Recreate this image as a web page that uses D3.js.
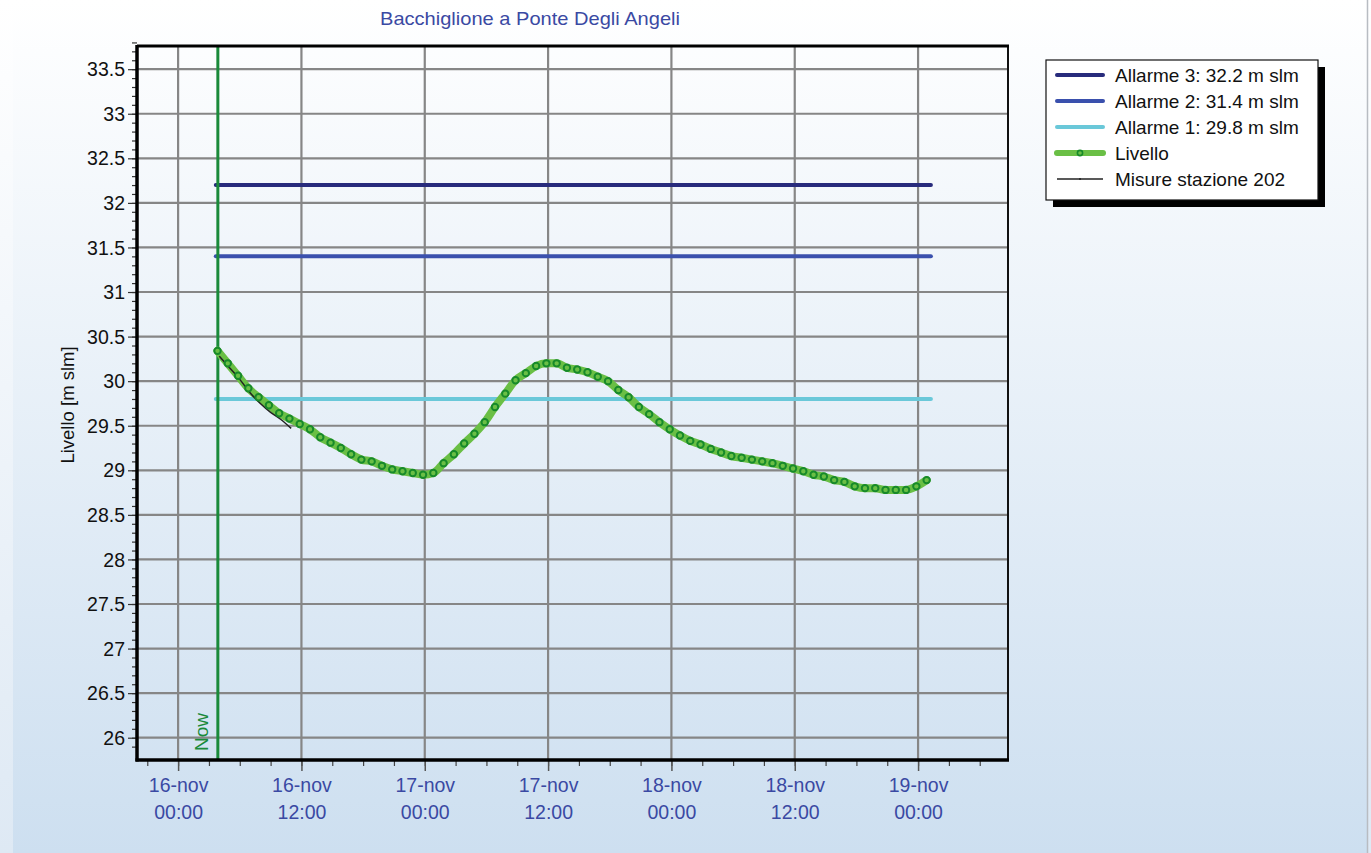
<!DOCTYPE html>
<html>
<head>
<meta charset="utf-8">
<script src="https://cdn.jsdelivr.net/npm/d3@7"></script>
<style>
  html, body { margin: 0; padding: 0; background: #ffffff; }
  svg { display: block; }
  text { font-family: "Liberation Sans", Arial, sans-serif; }
</style>
</head>
<body>
<svg id="chart" width="1371" height="853"></svg>
<script>
// ---------------- DATA ----------------
const title = "Bacchiglione a Ponte Degli Angeli";
const yLabel = "Livello [m slm]";

const alarmNames = ["Allarme 3: 32.2 m slm", "Allarme 2: 31.4 m slm", "Allarme 1: 29.8 m slm"];
const alarmLevels = [32.2, 31.4, 29.8];
const alarmStart = "2023-11-16T03:40:00Z";
const alarmEnd = "2023-11-19T01:15:00Z";

const nowTime = "2023-11-16T03:52:00Z";

// Livello (forecast), hourly from livelloStart
const livelloStart = "2023-11-16T03:50:00Z";
const livelloValues = [
  30.34, 30.20, 30.06, 29.92, 29.82, 29.73, 29.64, 29.58, 29.52, 29.46,
  29.37, 29.31, 29.25, 29.18, 29.12, 29.10, 29.05, 29.01, 28.99, 28.97,
  28.95, 28.97, 29.08, 29.18, 29.30, 29.41, 29.54, 29.71, 29.86, 30.01,
  30.09, 30.17, 30.20, 30.20, 30.15, 30.13, 30.10, 30.05, 30.00, 29.90,
  29.82, 29.71, 29.63, 29.54, 29.46, 29.39, 29.33, 29.29, 29.24, 29.20,
  29.16, 29.14, 29.12, 29.10, 29.08, 29.05, 29.02, 28.99, 28.95, 28.93,
  28.89, 28.87, 28.82, 28.80, 28.80, 28.78, 28.78, 28.78, 28.82, 28.89
];

// Misure stazione 202 (observed), hourly from misureStart
const misureStart = "2023-11-16T04:00:00Z";
const misureValues = [30.28, 30.15, 30.02, 29.87, 29.75, 29.65, 29.57, 29.47];

const xDomain = ["2023-11-15T20:00:00Z", "2023-11-19T08:45:00Z"];
const yDomain = [25.75, 33.76];
const yMajorTicks = [26, 26.5, 27, 27.5, 28, 28.5, 29, 29.5, 30, 30.5, 31, 31.5, 32, 32.5, 33, 33.5];
const xTickDays = ["16-nov", "16-nov", "17-nov", "17-nov", "18-nov", "18-nov", "19-nov"];
const xTickHours = ["00:00", "12:00", "00:00", "12:00", "00:00", "12:00", "00:00"];
const xTickTimes = [
  "2023-11-16T00:00:00Z", "2023-11-16T12:00:00Z", "2023-11-17T00:00:00Z",
  "2023-11-17T12:00:00Z", "2023-11-18T00:00:00Z", "2023-11-18T12:00:00Z",
  "2023-11-19T00:00:00Z"
];

const legendNames = [...alarmNames, "Livello", "Misure stazione 202"];

// ---------------- STYLE ----------------
const alarmColors = ["#282b7c", "#3a50ad", "#6ac8d9"];
const livelloLine = "#6abf45";
const livelloMarker = "#178a2a";
const nowColor = "#1a8a3a";
const gridColor = "#868686";
const blueText = "#3a49a3";
const FONT = "Liberation Sans, Arial, sans-serif";

// ---------------- DRAW ----------------
const svg = d3.select("#chart");
const W = 1371, H = 853;
const M = { left: 137, right: 1008, top: 46, bottom: 760 };

const defs = svg.append("defs");
const g1 = defs.append("linearGradient").attr("id", "bgMain").attr("x1", 0).attr("y1", 0).attr("x2", 0).attr("y2", 1);
g1.append("stop").attr("offset", "0%").attr("stop-color", "#ffffff");
g1.append("stop").attr("offset", "100%").attr("stop-color", "#cddff0");
const g2 = defs.append("linearGradient").attr("id", "bgSide").attr("x1", 0).attr("y1", 0).attr("x2", 0).attr("y2", 1);
g2.append("stop").attr("offset", "0%").attr("stop-color", "#ffffff");
g2.append("stop").attr("offset", "100%").attr("stop-color", "#dee9f4");

svg.append("rect").attr("x", 0).attr("y", 0).attr("width", W).attr("height", H).attr("fill", "url(#bgSide)");
svg.append("rect").attr("x", 13).attr("y", 0).attr("width", 1354).attr("height", H).attr("fill", "url(#bgMain)");
svg.append("line").attr("x1", 1367.5).attr("x2", 1367.5).attr("y1", 0).attr("y2", H)
  .attr("stroke", "#b8bcc2").attr("stroke-width", 1.5);

const parse = s => new Date(s);
const x = d3.scaleUtc().domain(xDomain.map(parse)).range([M.left, M.right]);
const y = d3.scaleLinear().domain(yDomain).range([M.bottom, M.top]);

// title
svg.append("text").attr("x", 530).attr("y", 25).attr("text-anchor", "middle")
  .attr("font-size", 19).attr("fill", blueText).attr("textLength", 300).attr("lengthAdjust", "spacingAndGlyphs").text(title);

// grid
const grid = svg.append("g");
grid.selectAll("line.h").data(yMajorTicks).join("line")
  .attr("x1", M.left).attr("x2", M.right)
  .attr("y1", d => y(d)).attr("y2", d => y(d))
  .attr("stroke", gridColor).attr("stroke-width", 2.2);
grid.selectAll("line.v").data(xTickTimes.map(parse)).join("line")
  .attr("x1", d => x(d)).attr("x2", d => x(d))
  .attr("y1", M.top).attr("y2", M.bottom)
  .attr("stroke", gridColor).attr("stroke-width", 2.2);

// y axis ticks
const yMinor = d3.range(Math.round(yDomain[0] * 10 + 1), Math.round(yDomain[1] * 10) + 1).map(v => v / 10);
const yAxisMinor = d3.axisLeft(y).tickValues(yMinor).tickSize(5).tickFormat("");
svg.append("g").attr("transform", `translate(${M.left},0)`).call(yAxisMinor)
  .call(g => g.select(".domain").remove())
  .call(g => g.selectAll("line").attr("stroke", "#333").attr("stroke-width", 1.2));
const yAxis = d3.axisLeft(y).tickValues(yMajorTicks).tickSize(9).tickPadding(3)
  .tickFormat(d => String(+d.toFixed(1)));
svg.append("g").attr("transform", `translate(${M.left},0)`).call(yAxis)
  .call(g => g.select(".domain").remove())
  .call(g => g.selectAll("line").attr("stroke", "#333").attr("stroke-width", 1.2))
  .call(g => g.selectAll("text").attr("font-size", 19.5).attr("fill", "#111").attr("dy", "0.34em")
     .attr("font-family", FONT));

// x axis ticks
const xMinor = d3.utcHour.every(3).range(x.domain()[0], x.domain()[1]);
const xAxisMinor = d3.axisBottom(x).tickValues(xMinor).tickSize(6).tickFormat("");
svg.append("g").attr("transform", `translate(0,${M.bottom})`).call(xAxisMinor)
  .call(g => g.select(".domain").remove())
  .call(g => g.selectAll("line").attr("stroke", "#444").attr("stroke-width", 1.2));
const xAxis = d3.axisBottom(x).tickValues(xTickTimes.map(parse)).tickSize(11).tickFormat("");
const xg = svg.append("g").attr("transform", `translate(0,${M.bottom})`).call(xAxis)
  .call(g => g.select(".domain").remove())
  .call(g => g.selectAll("line").attr("stroke", "#555").attr("stroke-width", 1.5));
xg.selectAll(".tick").each(function(d, i) {
  const t = d3.select(this).append("text").attr("fill", blueText).attr("font-size", 19.5)
    .attr("text-anchor", "middle").attr("font-family", FONT);
  t.append("tspan").attr("x", 0).attr("y", 32).text(xTickDays[i]);
  t.append("tspan").attr("x", 0).attr("y", 59).text(xTickHours[i]);
});

// y axis label
svg.append("text").attr("transform", `translate(74,405) rotate(-90)`)
  .attr("text-anchor", "middle").attr("font-size", 18.5).attr("fill", "#111").text(yLabel);

// alarm lines
svg.append("g").selectAll("line").data(alarmLevels).join("line")
  .attr("x1", x(parse(alarmStart))).attr("x2", x(parse(alarmEnd)))
  .attr("y1", d => y(d)).attr("y2", d => y(d))
  .attr("stroke", (d, i) => alarmColors[i]).attr("stroke-width", 4).attr("stroke-linecap", "round");

// Now line
svg.append("line").attr("x1", x(parse(nowTime))).attr("x2", x(parse(nowTime)))
  .attr("y1", M.top).attr("y2", M.bottom).attr("stroke", nowColor).attr("stroke-width", 3);
svg.append("text").attr("transform", `translate(${x(parse(nowTime)) - 10},751) rotate(-90)`)
  .attr("text-anchor", "start").attr("font-size", 19).attr("fill", nowColor).text("Now");

// Livello
const t0 = parse(livelloStart);
const livello = livelloValues.map((v, i) => ({ t: d3.utcHour.offset(t0, i), v }));
const line = d3.line().x(d => x(d.t)).y(d => y(d.v)).curve(d3.curveMonotoneX);
svg.append("path").datum(livello).attr("d", line).attr("fill", "none")
  .attr("stroke", livelloLine).attr("stroke-width", 8).attr("stroke-linejoin", "round").attr("stroke-linecap", "round");

// Misure
const m0 = parse(misureStart);
const misure = misureValues.map((v, i) => ({ t: d3.utcHour.offset(m0, i), v }));
svg.append("path").datum(misure).attr("d", line).attr("fill", "none")
  .attr("stroke", "#222").attr("stroke-width", 1.5);

svg.append("g").selectAll("circle").data(livello).join("circle")
  .attr("cx", d => x(d.t)).attr("cy", d => y(d.v)).attr("r", 3.2)
  .attr("fill", livelloLine).attr("stroke", livelloMarker).attr("stroke-width", 2);

// plot border
svg.append("rect").attr("x", M.left).attr("y", M.top).attr("width", M.right - M.left).attr("height", M.bottom - M.top)
  .attr("fill", "none").attr("stroke", "#111").attr("stroke-width", 2);
svg.append("line").attr("x1", M.left).attr("x2", M.left).attr("y1", M.top - 1).attr("y2", M.bottom + 1.5)
  .attr("stroke", "#000").attr("stroke-width", 3.5);
svg.append("line").attr("x1", M.left - 1.5).attr("x2", M.right + 1).attr("y1", M.bottom).attr("y2", M.bottom)
  .attr("stroke", "#000").attr("stroke-width", 3.5);
svg.append("line").attr("x1", M.left).attr("x2", M.right + 1).attr("y1", M.top).attr("y2", M.top)
  .attr("stroke", "#000").attr("stroke-width", 3);

// legend
const L = { x: 1046, y: 60, w: 272, h: 140 };
svg.append("rect").attr("x", L.x + 7).attr("y", L.y + 7).attr("width", L.w).attr("height", L.h).attr("fill", "#000");
svg.append("rect").attr("x", L.x).attr("y", L.y).attr("width", L.w).attr("height", L.h)
  .attr("fill", "#ffffff").attr("stroke", "#111").attr("stroke-width", 1.2);
const lg = svg.append("g").selectAll("g").data(legendNames).join("g")
  .attr("transform", (d, i) => `translate(${L.x}, ${L.y + 15 + i * 26})`);
lg.append("line").attr("x1", 11).attr("x2", 57).attr("y1", 0).attr("y2", 0)
  .attr("stroke", (d, i) => i < 3 ? alarmColors[i] : (i === 3 ? livelloLine : "#222"))
  .attr("stroke-width", (d, i) => i < 3 ? 4 : (i === 3 ? 6 : 1.4))
  .attr("stroke-linecap", (d, i) => i === 4 ? "butt" : "round");
lg.filter((d, i) => i === 3).append("circle").attr("cx", 34).attr("cy", 0).attr("r", 2.6)
  .attr("fill", livelloLine).attr("stroke", livelloMarker).attr("stroke-width", 1.6);
lg.filter((d, i) => i === 4).append("circle").attr("cx", 34).attr("cy", 0).attr("r", 1).attr("fill", "#222");
lg.append("text").attr("x", 69).attr("y", 7).attr("font-size", 19).attr("fill", "#111").text(d => d);
</script>
</body>
</html>
